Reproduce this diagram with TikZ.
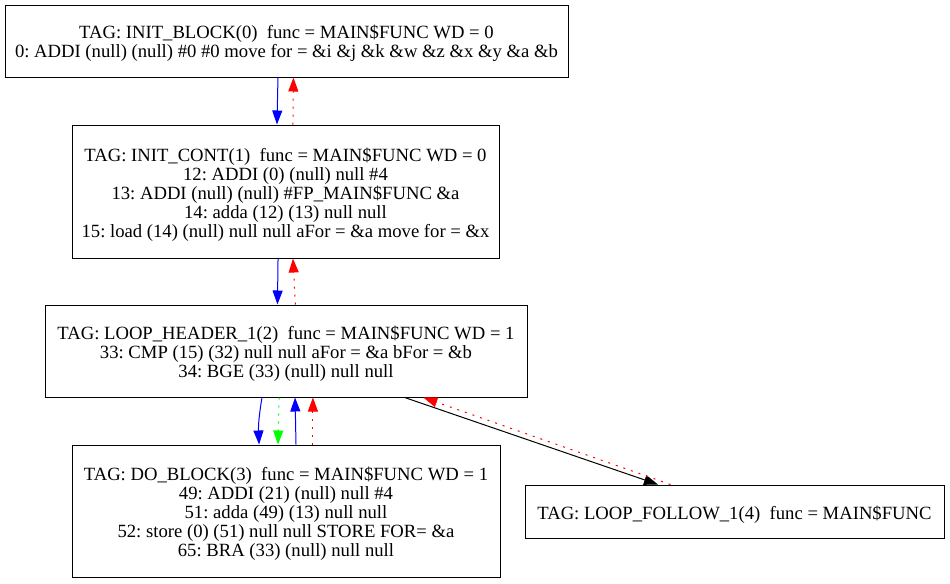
\documentclass[tikz,border=0pt]{standalone}
\usepackage{fontspec}
\setmainfont{Liberation Serif}
\usepackage{tikz}
\usetikzlibrary{arrows.meta}
\frenchspacing

\begin{document}
\begin{tikzpicture}[x=0.75pt,y=-0.75pt,->,>={Triangle[length=10.5pt,width=7.5pt]},
                    line width=0.75pt,font=\fontsize{14}{14.25}\selectfont]
  \tikzstyle{block}=[draw,rectangle,inner sep=0pt,align=center,line width=0.75pt]
  \tikzstyle{fwd}=[blue]
  \tikzstyle{bwd}=[red,dash pattern=on 1.5pt off 4.5pt]
  \tikzstyle{dom}=[green,dash pattern=on 1.5pt off 4.5pt]

  \useasboundingbox (0,0) rectangle (950,583);

  \node[block,minimum width=422.25pt,minimum height=54pt] (ib) at (286.5,41)
    {\mbox{}\\TAG: INIT\_BLOCK(0)~ func = MAIN\$FUNC WD = 0\\
     0: ADDI (null) (null) \#0 \#0 move for = \&i \&j \&k \&w \&z \&x \&y \&a \&b};
  \node[block,minimum width=320.25pt,minimum height=99.75pt] (ic) at (285.5,191.5)
    {\mbox{}\\TAG: INIT\_CONT(1)~ func = MAIN\$FUNC WD = 0\\
     12: ADDI (0) (null) null \#4\\
     13: ADDI (null) (null) \#FP\_MAIN\$FUNC \&a\\
     14: adda (12) (13) null null\\
     15: load (14) (null) null null aFor = \&a move for = \&x};
  \node[block,minimum width=361.5pt,minimum height=69pt] (lh) at (286,351)
    {\mbox{}\\TAG: LOOP\_HEADER\_1(2)~ func = MAIN\$FUNC WD = 1\\
     33: CMP (15) (32) null null aFor = \&a bFor = \&b\\
     34: BGE (33) (null) null null};
  \node[block,minimum width=321pt,minimum height=99pt] (db) at (286,511)
    {\mbox{}\\TAG: DO\_BLOCK(3)~ func = MAIN\$FUNC WD = 1\\
     49: ADDI (21) (null) null \#4\\
     51: adda (49) (13) null null\\
     52: store (0) (51) null null STORE FOR= \&a\\
     65: BRA (33) (null) null null};
  \node[block,minimum width=314.25pt,minimum height=39.75pt] (lf) at (734.5,511.5)
    {\mbox{}\\TAG: LOOP\_FOLLOW\_1(4)~ func = MAIN\$FUNC};

  \path ([xshift=-6.4pt]ib.south) edge[fwd] ([xshift=-6.4pt]ic.north)
        ([xshift=5.6pt]ic.north)  edge[bwd] ([xshift=5.2pt]ib.south)
        ([xshift=-5.6pt]ic.south) edge[fwd] ([xshift=-6.4pt]lh.north)
        ([xshift=7pt]lh.north)    edge[bwd] ([xshift=5.6pt]ic.south)
        ([xshift=-18pt]lh.south)  edge[fwd,bend right=6] ([xshift=-20.2pt]db.north)
        ([xshift=-5.2pt]lh.south) edge[dom] ([xshift=-6pt]db.north)
        ([xshift=7.5pt]db.north)  edge[fwd] ([xshift=6.8pt]lh.south)
        ([xshift=20.2pt]db.north) edge[bwd] ([xshift=20.2pt]lh.south)
        ([xshift=89pt]lh.south)   edge[black] ([xshift=-57.4pt]lf.north)
        ([xshift=-48pt]lf.north)  edge[bwd] ([xshift=103pt]lh.south);
\end{tikzpicture}
\end{document}
